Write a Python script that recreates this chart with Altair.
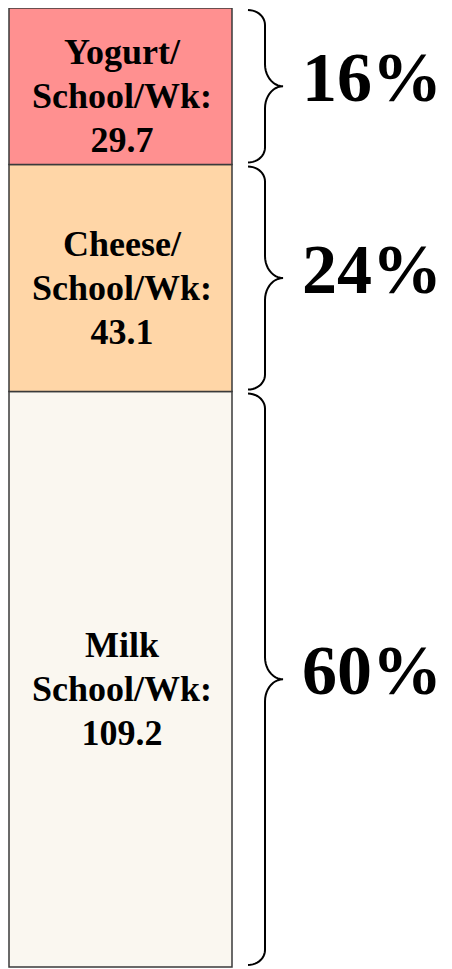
import altair as alt
import pandas as pd
import numpy as np

NB = "\u00a0"
categories = ["Milk", "Cheese", "Yogurt"]
labels = [f"{NB}Milk\nSchool/Wk:\n{NB}{NB}109.2",
          f"{NB}Cheese/\nSchool/Wk:\n{NB}43.1",
          f"{NB}Yogurt/\nSchool/Wk:\n{NB}29.7"]
values = [109.2, 43.1, 29.7]
percents = ["60%", "24%", "16%"]
colors = ["#FAF7F0", "#FFD6A7", "#FF9090"]

W, H = 436, 961
PLOT_H = 959
total = sum(values)
px = total / PLOT_H  # value units per pixel

starts = np.concatenate([[0], np.cumsum(values)[:-1]])
ends = np.cumsum(values)
df = pd.DataFrame({
    "cat": categories, "label": labels, "value": values, "pct": percents,
    "y0": starts, "y1": ends, "mid": (starts + ends) / 2,
})

# brace geometry derived from segment extents
rows = []
for i, (a, b) in enumerate(zip(starts, ends)):
    lo, hi = a + 2 * px, b - 2 * px
    m = (a + b) / 2
    r1 = min(15 * px, (hi - lo) / 6)
    r2 = min(22 * px, (hi - lo) / 6)
    xe, xs, xt = 240, 257, 275
    pts = []
    t = np.linspace(0, np.pi / 2, 12)
    for tt in t:
        pts.append((xe + (xs - xe) * np.sin(tt), hi - r1 + r1 * np.cos(tt)))
    for tt in t:
        pts.append((xt - (xt - xs) * np.cos(tt), m + r2 - r2 * np.sin(tt)))
    for tt in t[::-1]:
        pts.append((xt - (xt - xs) * np.cos(tt), m - r2 + r2 * np.sin(tt)))
    for tt in t[::-1]:
        pts.append((xe + (xs - xe) * np.sin(tt), lo + r1 - r1 * np.cos(tt)))
    for k, (x, y) in enumerate(pts):
        rows.append({"brace": i, "ord": k, "bx": x, "by": y})
braces = pd.DataFrame(rows)

xs_ = alt.Scale(domain=[0, W], range=[0, W])
ys_ = alt.Scale(domain=[0, total], range=[PLOT_H, 0])

base = alt.Chart(df)
bars = base.mark_rect(stroke="#3a3a3a", strokeWidth=1.5).encode(
    x=alt.value(1), x2=alt.value(224),
    y=alt.Y("y0:Q", scale=ys_, axis=None), y2="y1:Q",
    color=alt.Color("cat:N", scale=alt.Scale(domain=categories, range=colors), legend=None),
)
inner = base.mark_text(font="Liberation Serif", fontWeight="bold", fontSize=36,
                       lineHeight=44, baseline="middle", align="center", dy=-33,
                       lineBreak="\n", color="black").encode(
    x=alt.value(114), y=alt.Y("mid:Q", scale=ys_), text="label:N")
pct = base.mark_text(font="Liberation Serif", fontWeight="bold", fontSize=70,
                     baseline="middle", align="left", dy=-6, color="black").encode(
    x=alt.value(294), y=alt.Y("mid:Q", scale=ys_), text="pct:N")
brace = alt.Chart(braces).mark_line(color="black", strokeWidth=2).encode(
    x=alt.X("bx:Q", scale=xs_, axis=None), y=alt.Y("by:Q", scale=ys_),
    detail="brace:N", order="ord:Q")

chart = alt.layer(bars, inner, pct, brace).properties(
    width=W, height=H, padding=0, autosize="none"
).configure_view(stroke=None)

chart.save("out.html", embed_options={"renderer": "svg", "actions": False})
